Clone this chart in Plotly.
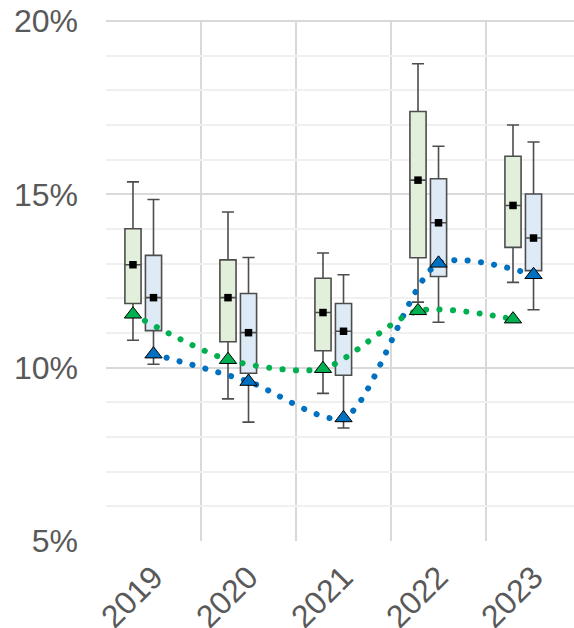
import plotly.graph_objects as go

# Category labels
years = ["2019", "2020", "2021", "2022", "2023"]

# Green series: whisker ends, quartiles, median, and reference point (in %)
green_upper = [15.36, 14.49, 13.31, 18.77, 17.00]
green_q3 = [14.01, 13.11, 12.58, 17.39, 16.10]
green_median = [12.97, 12.02, 11.59, 15.41, 14.68]
green_q1 = [11.85, 10.75, 10.49, 13.17, 13.47]
green_lower = [10.79, 9.10, 9.26, 11.89, 12.46]
green_point = [11.54, 10.23, 9.97, 11.64, 11.40]

# Blue series
blue_upper = [14.85, 13.18, 12.68, 16.39, 16.51]
blue_q3 = [13.24, 12.14, 11.85, 15.45, 15.01]
blue_median = [12.02, 11.01, 11.05, 14.18, 13.74]
blue_q1 = [11.07, 9.84, 9.78, 12.63, 12.80]
blue_lower = [10.10, 8.43, 8.26, 11.31, 11.67]
blue_point = [10.39, 9.60, 8.55, 13.01, 12.68]

# Horizontal placement of the two boxes within each year slot
idx = list(range(len(years)))
green_x = [i - 0.216 for i in idx]
blue_x = [i for i in idx]
BOX_W = 0.17

FONT = "Liberation Sans, Arial, sans-serif"
TXT = "#595959"

fig = go.Figure()

def add_box(xs, lo, q1, med, q3, hi, fill):
    fig.add_trace(go.Box(
        x=xs, lowerfence=lo, q1=q1, median=med, q3=q3, upperfence=hi,
        width=BOX_W, whiskerwidth=0.75, boxpoints=False,
        fillcolor=fill, line=dict(color="#4d4d4d", width=1.6),
        hoverinfo="skip",
    ))

add_box(green_x, green_lower, green_q1, green_median, green_q3, green_upper, "#e2efda")
add_box(blue_x, blue_lower, blue_q1, blue_median, blue_q3, blue_upper, "#deebf7")

# Median squares
for xs, med in ((green_x, green_median), (blue_x, blue_median)):
    fig.add_trace(go.Scatter(x=xs, y=med, mode="markers",
                             marker=dict(symbol="square", size=7.5, color="black"),
                             hoverinfo="skip"))

# Smoothed dotted trend lines through the reference points
fig.add_trace(go.Scatter(x=blue_x, y=blue_point, mode="lines",
                         line=dict(color="#0070c0", width=6, shape="spline",
                                   smoothing=0.75, dash="dot"),
                         hoverinfo="skip"))
fig.add_trace(go.Scatter(x=green_x, y=green_point, mode="lines",
                         line=dict(color="#00b050", width=6, shape="spline",
                                   smoothing=0.75, dash="dot"),
                         hoverinfo="skip"))

# Triangle markers
fig.add_trace(go.Scatter(x=green_x, y=green_point, mode="markers",
                         marker=dict(symbol="triangle-up", size=15, color="#00b050",
                                     line=dict(color="black", width=1)),
                         hoverinfo="skip"))
fig.add_trace(go.Scatter(x=blue_x, y=blue_point, mode="markers",
                         marker=dict(symbol="triangle-up", size=15, color="#0070c0",
                                     line=dict(color="black", width=1)),
                         hoverinfo="skip"))

fig.update_layout(
    width=574, height=628,
    margin=dict(l=106, r=0, t=20, b=87),
    paper_bgcolor="white", plot_bgcolor="white",
    showlegend=False,
    font=dict(family=FONT, color=TXT, size=32),
)

fig.update_xaxes(
    range=[-0.5, 4.426],
    tickmode="array", tickvals=idx, ticktext=years,
    tickangle=-45, ticks="", showgrid=False, zeroline=False,
    showline=False, automargin=False,
    ticklabelstandoff=10,
    tickfont=dict(family=FONT, size=32, color=TXT),
    minor=dict(tickmode="linear", tick0=-0.5, dtick=1, showgrid=True,
               gridcolor="#d9d9d9", gridwidth=2, ticks=""),
)

fig.update_yaxes(
    range=[5, 20.03],
    tickmode="linear", tick0=5, dtick=5, ticksuffix="%",
    showgrid=True, gridcolor="#d9d9d9", gridwidth=2,
    zeroline=False, showline=False, automargin=False,
    ticklabelstandoff=27,
    tickfont=dict(family=FONT, size=32, color=TXT),
    minor=dict(tickmode="linear", tick0=5, dtick=1, showgrid=True,
               gridcolor="#f0f0f0", gridwidth=2, ticks=""),
)

# Round-capped dots for the trend lines
post = """
(function(){
  var gd = document.getElementById('{plot_id}');
  function roundDots(){
    gd.querySelectorAll('.scatterlayer .js-line').forEach(function(p){
      p.style.strokeLinecap = 'round';
      p.style.strokeDasharray = '0.1px,13.3px';
    });
  }
  roundDots();
  gd.on('plotly_afterplot', roundDots);
})();
"""

fig.write_html("out.html", post_script=post)
